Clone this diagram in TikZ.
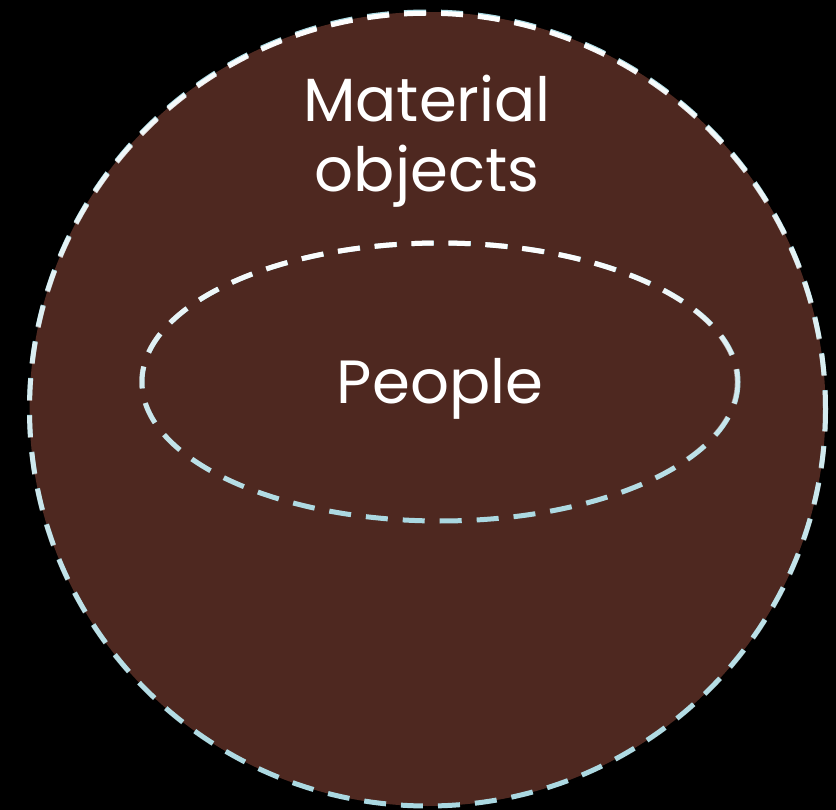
\documentclass[tikz,border=0pt]{standalone}
\usepackage{fontspec}
\setmainfont{Poppins}
\usetikzlibrary{fadings}
\definecolor{bgbrown}{HTML}{4E2820}
\definecolor{dashblue}{HTML}{A9D8E1}
\tikzset{
  ring/.style={draw=dashblue, line width=5pt, dash pattern=on 22pt off 15pt, fill=bgbrown},
  ringtop/.style={draw=white, line width=5pt, dash pattern=on 22pt off 15pt, path fading=south},
  lbl/.style={text=white, font=\fontsize{61}{70}\selectfont, align=center, inner sep=0pt}
}
\begin{document}
\begin{tikzpicture}[x=1pt,y=-1pt]
\fill[black] (0,0) rectangle (836,810);
\useasboundingbox (0,0) rectangle (836,810);
\path[ring] (427.5,409) ellipse [x radius=398, y radius=397];
\path[ringtop] (427.5,409) ellipse [x radius=398, y radius=397];
\path[ring] (440,382) ellipse [x radius=298, y radius=139];
\path[ringtop] (440,382) ellipse [x radius=298, y radius=139];
\node[lbl, anchor=base] (mat) at (427,122) {Material};
\node[lbl, anchor=base] (obj) at (427,192) {objects};
\node[lbl, anchor=base] (ppl) at (440,403) {People};
\end{tikzpicture}
\end{document}
